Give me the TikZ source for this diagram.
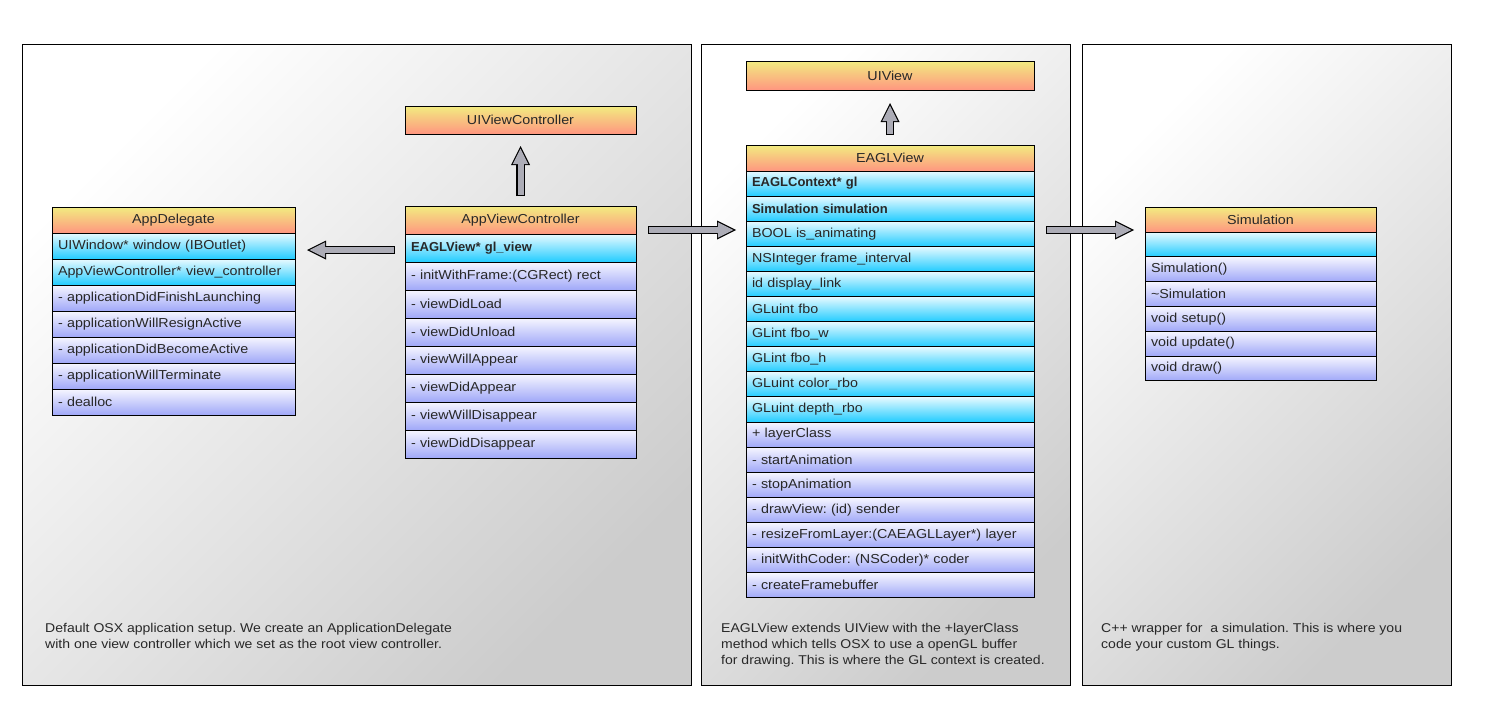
\documentclass[tikz,border=0pt]{standalone}
\usepackage{fontspec}
\setmainfont{Liberation Sans}[FakeStretch=1.1]
\newfontface\hb{Liberation Sans Bold}
\usetikzlibrary{positioning,arrows.meta,calc}

\definecolor{hdtop}{RGB}{242,236,128}
\definecolor{hdbot}{RGB}{255,150,128}
\definecolor{attop}{RGB}{232,250,255}
\definecolor{atbot}{RGB}{34,204,255}
\definecolor{mttop}{RGB}{246,246,255}
\definecolor{mtbot}{RGB}{160,168,248}
\definecolor{arrgray}{RGB}{172,172,182}
\definecolor{ink}{RGB}{40,40,40}

\tikzset{
  panel/.style={draw=black, line width=1pt, top color=white, bottom color=black!20, shading angle=45},
  cls/.style={draw=black, line width=1pt, outer sep=0pt, inner ysep=0pt, inner xsep=6pt,
    font=\fontsize{13}{15}\selectfont, text=ink},
  hdr/.style={cls, top color=hdtop, bottom color=hdbot, align=center},
  attr/.style={cls, top color=attop, bottom color=atbot, align=left},
  meth/.style={cls, top color=mttop, bottom color=mtbot, align=left},
  note/.style={anchor=north west, inner sep=0pt, align=left, text=ink,
    font=\fontsize{12.75}{16}\selectfont},
  fat/.style={draw=black, line width=8.4pt, -{Triangle[width=19pt,length=19pt,line width=0pt]},
    postaction={draw=arrgray, line width=6pt, shorten >=2.6pt, shorten <=1.2pt,
      -{Triangle[width=15.5pt,length=15.5pt,line width=0pt]}}}
}

\begin{document}
\frenchspacing
\begin{tikzpicture}[x=1pt, y=-1pt]
  \fill[white] (0,0) rectangle (1490,726);
  \useasboundingbox (0,0) rectangle (1490,726);

  % panels
  \draw[panel] (22,44) rectangle (691,685);
  \draw[panel] (701,44) rectangle (1070,685);
  \draw[panel] (1082,44) rectangle (1451,685);

  % app delegate
  \node[hdr, text width=231pt, minimum height=26pt] (ad) at (173.5,220) {AppDelegate};
  \foreach \t [count=\i] in {UIWindow* window (IBOutlet), AppViewController* view\_controller}
    \node[attr, text width=231pt, minimum height=26pt] (ad-a\i) at (173.5,220+26*\i) {\t};
  \foreach \t [count=\i from 3] in {- applicationDidFinishLaunching, - applicationWillResignActive,
      - applicationDidBecomeActive, - applicationWillTerminate, - dealloc}
    \node[meth, text width=231pt, minimum height=26pt] (ad-m\i) at (173.5,220+26*\i) {\t};

  % view controller
  \node[hdr, text width=219pt, minimum height=28pt] (uivc) at (520.5,120) {UIViewController};
  \node[hdr, text width=219pt, minimum height=28pt] (avc) at (520.5,220) {AppViewController};
  \node[attr, text width=219pt, minimum height=28pt] (avc-a1) at (520.5,248) {{\hb EAGLView* gl\_view}};
  \foreach \t [count=\i from 2] in {- initWithFrame:(CGRect) rect, - viewDidLoad, - viewDidUnload,
      - viewWillAppear, - viewDidAppear, - viewWillDisappear, - viewDidDisappear}
    \node[meth, text width=219pt, minimum height=28pt] (avc-m\i) at (520.5,220+28*\i) {\t};

  % gl view
  \node[hdr, text width=276pt, minimum height=29pt] (uiview) at (890,75.5) {UIView};
  \node[hdr, text width=276pt, minimum height=26pt] (eagl) at (890,158) {EAGLView};
  \foreach \t [count=\i] in {{\hb EAGLContext* gl}, {\hb Simulation simulation}, BOOL is\_animating,
      NSInteger frame\_interval, id display\_link, GLuint fbo, GLint fbo\_w, GLint fbo\_h,
      GLuint color\_rbo, GLuint depth\_rbo}
    \node[attr, text width=276pt, minimum height=25.1pt] (eagl-a\i) at (890,158.5+25.1*\i) {\t};
  \foreach \t [count=\i from 11] in {+ layerClass, - startAnimation, - stopAnimation,
      - drawView: (id) sender, - resizeFromLayer:(CAEAGLLayer*) layer,
      - initWithCoder: (NSCoder)* coder, - createFramebuffer}
    \node[meth, text width=276pt, minimum height=25.1pt] (eagl-m\i) at (890,158.5+25.1*\i) {\t};

  % simulation
  \node[hdr, text width=219pt, minimum height=25pt] (sim) at (1260.5,219.5) {Simulation};
  \node[attr, text width=219pt, minimum height=24.8pt] (sim-a1) at (1260.5,244.4) {};
  \foreach \t [count=\i from 2] in {Simulation(), \textasciitilde Simulation, void setup(),
      void update(), void draw()}
    \node[meth, text width=219pt, minimum height=24.8pt] (sim-m\i) at (1260.5,219.6+24.8*\i) {\t};

  % connectors
  \draw[fat] ([xshift=-10pt,yshift=-2pt]avc-a1.west) -- ($(avc-a1.west -| ad.east)+(12pt,-2pt)$);
  \draw[fat] ([yshift=10pt]avc.north) -- ([yshift=-12pt]uivc.south);
  \draw[fat] ([xshift=12pt,yshift=-10pt]avc.east) coordinate (r1) -- ($(r1 -| eagl.west)+(-10pt,0)$);
  \draw[fat] ([yshift=10pt]eagl.north) -- ([yshift=-13pt]uiview.south);
  \draw[fat] ($(r1 -| eagl.east)+(12pt,0)$) -- ($(r1 -| sim.west)+(-11pt,0)$);

  % notes
  \node[note] (note1) at (45,623) {Default OSX application setup. We create an ApplicationDelegate\\
    with one view controller which we set as the root view controller.};
  \node[note] (note2) at (721,623) {EAGLView extends UIView with the +layerClass\\
    method which tells OSX to use a openGL buffer\\for drawing. This is where the GL context is created.};
  \node[note] (note3) at (1101,623) {C++ wrapper for\ \ a simulation. This is where you\\
    code your custom GL things.};
\end{tikzpicture}
\end{document}
